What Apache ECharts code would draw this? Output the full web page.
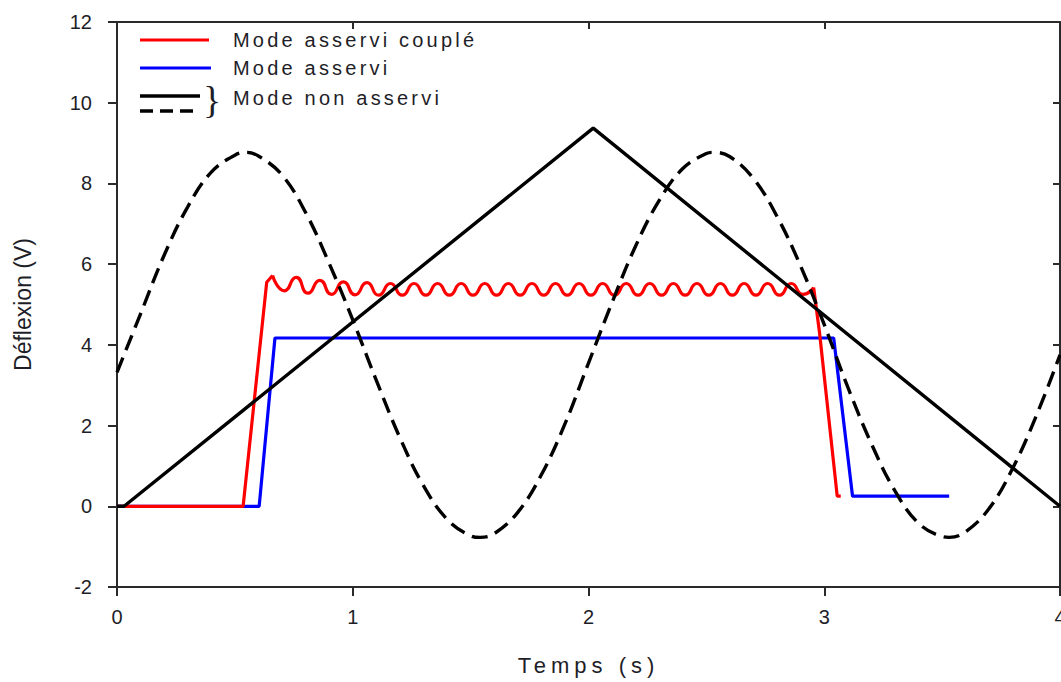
<!DOCTYPE html>
<html>
<head>
<meta charset="utf-8">
<script src="https://cdn.jsdelivr.net/npm/echarts@6.0.0/dist/echarts.min.js"></script>
<style>
  html, body { margin: 0; padding: 0; background: #ffffff; }
  #chart { width: 1061px; height: 682px; }
</style>
</head>
<body>
<div id="chart"></div>
<script>
// ---- Data ----
const xTickValues = [0, 1, 2, 3, 4];
const yTickValues = [-2, 0, 2, 4, 6, 8, 10, 12];

const legendLabels = ['Mode asservi couplé', 'Mode asservi', 'Mode non asservi'];
const xAxisTitle = 'Temps (s)';
const yAxisTitle = 'Déflexion (V)';

// Mode asservi couplé (red): rise, ripple plateau, fall
const redRiseX = [0, 0.535, 0.635, 0.66];
const redRiseY = [0, 0, 5.55, 5.72];
const redRippleX = [0.66, 0.71, 0.76, 0.81, 0.86, 0.91, 0.96, 1.01, 1.06, 1.11,
  1.16, 1.21, 1.26, 1.31, 1.36, 1.41, 1.46, 1.51, 1.56, 1.61,
  1.66, 1.71, 1.76, 1.81, 1.86, 1.91, 1.96, 2.01, 2.06, 2.11,
  2.16, 2.21, 2.26, 2.31, 2.36, 2.41, 2.46, 2.51, 2.56, 2.61,
  2.66, 2.71, 2.76, 2.81, 2.86, 2.91, 2.955];
const redRippleY = [5.72, 5.34, 5.67, 5.28, 5.60, 5.25, 5.56, 5.24, 5.54, 5.23,
  5.52, 5.23, 5.52, 5.23, 5.52, 5.23, 5.52, 5.23, 5.52, 5.23,
  5.52, 5.23, 5.52, 5.23, 5.52, 5.23, 5.52, 5.23, 5.52, 5.23,
  5.52, 5.23, 5.52, 5.23, 5.52, 5.23, 5.52, 5.23, 5.52, 5.23,
  5.52, 5.23, 5.52, 5.23, 5.52, 5.25, 5.42];
const redFallX = [2.955, 2.98, 3.055, 3.07];
const redFallY = [5.42, 4.30, 0.25, 0.25];

// Mode asservi (blue)
const blueX = [0, 0.603, 0.67, 3.04, 3.12, 3.53];
const blueY = [0, 0, 4.17, 4.17, 0.25, 0.25];

// Mode non asservi, solid (triangle)
const triX = [0, 0.03, 2.02, 4.0];
const triY = [0, 0, 9.37, 0];

// Mode non asservi, dashed (sine-like)
const sineX = [0, 0.1, 0.2, 0.3, 0.4, 0.5, 0.55, 0.6, 0.7, 0.8, 0.9,
  1.0, 1.1, 1.2, 1.3, 1.4, 1.5, 1.54, 1.6, 1.7, 1.8, 1.9,
  2.0, 2.1, 2.2, 2.3, 2.4, 2.5, 2.53, 2.6, 2.7, 2.8, 2.9,
  3.0, 3.1, 3.2, 3.3, 3.4, 3.5, 3.53, 3.6, 3.7, 3.8, 3.9, 4.0];
const sineY = [3.32, 4.77, 6.22, 7.42, 8.28, 8.70, 8.77, 8.68, 8.21, 7.28, 6.02,
  4.62, 3.12, 1.70, 0.51, -0.32, -0.73, -0.77, -0.68, -0.15, 0.78, 2.04,
  3.55, 5.05, 6.45, 7.58, 8.37, 8.74, 8.77, 8.66, 8.12, 7.18, 5.95,
  4.50, 2.95, 1.55, 0.38, -0.42, -0.75, -0.77, -0.63, -0.05, 0.95, 2.25, 3.75];

// ---- Build chart ----
function pairs(xs, ys) { return xs.map((x, i) => [x, ys[i]]); }

const FONT = 'Liberation Sans, Arial, sans-serif';
const AXIS_COLOR = '#2a2a2a';
const TEXT_COLOR = '#1e1e28';

const chart = echarts.init(document.getElementById('chart'), null, { renderer: 'svg' });

const baseX = {
  type: 'value',
  min: xTickValues[0],
  max: xTickValues[xTickValues.length - 1],
  interval: 1,
  splitLine: { show: false },
  axisLine: { show: true, onZero: false, lineStyle: { color: AXIS_COLOR, width: 2 } }
};
const baseY = {
  type: 'value',
  min: yTickValues[0],
  max: yTickValues[yTickValues.length - 1],
  interval: 2,
  splitLine: { show: false },
  axisLine: { show: true, onZero: false, lineStyle: { color: AXIS_COLOR, width: 2 } }
};

const legendY = [40, 68, 96];
const graphic = [
  { type: 'line', shape: { x1: 140, y1: legendY[0], x2: 209, y2: legendY[0] }, style: { stroke: '#ff0000', lineWidth: 3.2 } },
  { type: 'line', shape: { x1: 140, y1: legendY[1], x2: 211, y2: legendY[1] }, style: { stroke: '#0000ff', lineWidth: 3.2 } },
  { type: 'line', shape: { x1: 140, y1: 96, x2: 200, y2: 96 }, style: { stroke: '#000000', lineWidth: 3.4 } },
  { type: 'line', shape: { x1: 140, y1: 111, x2: 200, y2: 111 }, style: { stroke: '#000000', lineWidth: 3.4, lineDash: [13, 7] } },
  { type: 'text', x: 203, y: 100, style: { text: '}', font: '38px Liberation Serif, serif', fill: TEXT_COLOR, verticalAlign: 'middle', align: 'left' } },
  { type: 'text', x: 233, y: legendY[0], style: { text: legendLabels[0], font: '20px ' + FONT, fill: TEXT_COLOR, verticalAlign: 'middle', align: 'left' } },
  { type: 'text', x: 233, y: legendY[1], style: { text: legendLabels[1], font: '20px ' + FONT, fill: TEXT_COLOR, verticalAlign: 'middle', align: 'left' } },
  { type: 'text', x: 233, y: 98, style: { text: legendLabels[2], font: '20px ' + FONT, fill: TEXT_COLOR, verticalAlign: 'middle', align: 'left' } }
];

const option = {
  animation: false,
  backgroundColor: '#ffffff',
  grid: { left: 117, right: 1, top: 22, bottom: 95, containLabel: false, outerBoundsMode: 'none' },
  xAxis: [
    Object.assign({}, baseX, {
      position: 'bottom',
      axisTick: { show: true, inside: false, length: 9, lineStyle: { color: AXIS_COLOR, width: 2 } },
      axisLabel: { show: true, fontSize: 20, fontFamily: FONT, color: TEXT_COLOR, margin: 20 },
      name: xAxisTitle,
      nameLocation: 'middle',
      nameGap: 67,
      nameTextStyle: { fontSize: 22, fontFamily: FONT, color: TEXT_COLOR }
    }),
    Object.assign({}, baseX, {
      position: 'top',
      axisTick: { show: true, inside: true, length: 7, lineStyle: { color: AXIS_COLOR, width: 2 } },
      axisLabel: { show: false }
    })
  ],
  yAxis: [
    Object.assign({}, baseY, {
      position: 'left',
      axisTick: { show: true, inside: false, length: 9, lineStyle: { color: AXIS_COLOR, width: 2 } },
      axisLabel: { show: true, fontSize: 20, fontFamily: FONT, color: TEXT_COLOR, margin: 25 },
      name: yAxisTitle,
      nameLocation: 'middle',
      nameGap: 83,
      nameRotate: 90,
      nameTextStyle: { fontSize: 23, fontFamily: FONT, color: TEXT_COLOR }
    }),
    Object.assign({}, baseY, {
      position: 'right',
      axisTick: { show: true, inside: true, length: 7, lineStyle: { color: AXIS_COLOR, width: 2 } },
      axisLabel: { show: false }
    })
  ],
  graphic: graphic,
  series: [
    { type: 'line', name: legendLabels[1], data: pairs(blueX, blueY), symbol: 'none',
      lineStyle: { color: '#0000ff', width: 3.2 }, z: 2 },
    { type: 'line', name: legendLabels[0], data: pairs(redRiseX, redRiseY), symbol: 'none',
      lineStyle: { color: '#ff0000', width: 3.2 }, z: 3 },
    { type: 'line', name: legendLabels[0], data: pairs(redRippleX, redRippleY), symbol: 'none', smooth: 0.6,
      lineStyle: { color: '#ff0000', width: 3.2 }, z: 3 },
    { type: 'line', name: legendLabels[0], data: pairs(redFallX, redFallY), symbol: 'none',
      lineStyle: { color: '#ff0000', width: 3.2 }, z: 3 },
    { type: 'line', name: legendLabels[2], data: pairs(triX, triY), symbol: 'none',
      lineStyle: { color: '#000000', width: 3.4 }, z: 4 },
    { type: 'line', name: legendLabels[2], data: pairs(sineX, sineY), symbol: 'none', smooth: 0.4,
      lineStyle: { color: '#000000', width: 3.4, type: [16, 8] }, z: 5 }
  ]
};

chart.setOption(option);

function applySpacing() {
  document.querySelectorAll('#chart text').forEach(function (t) {
    const s = t.textContent;
    if (legendLabels.indexOf(s) >= 0) t.style.letterSpacing = '3.2px';
    else if (s === xAxisTitle) t.style.letterSpacing = '5px';
  });
}
chart.on('finished', applySpacing);
chart.on('rendered', applySpacing);
setTimeout(applySpacing, 30);
setTimeout(applySpacing, 200);
</script>
</body>
</html>
